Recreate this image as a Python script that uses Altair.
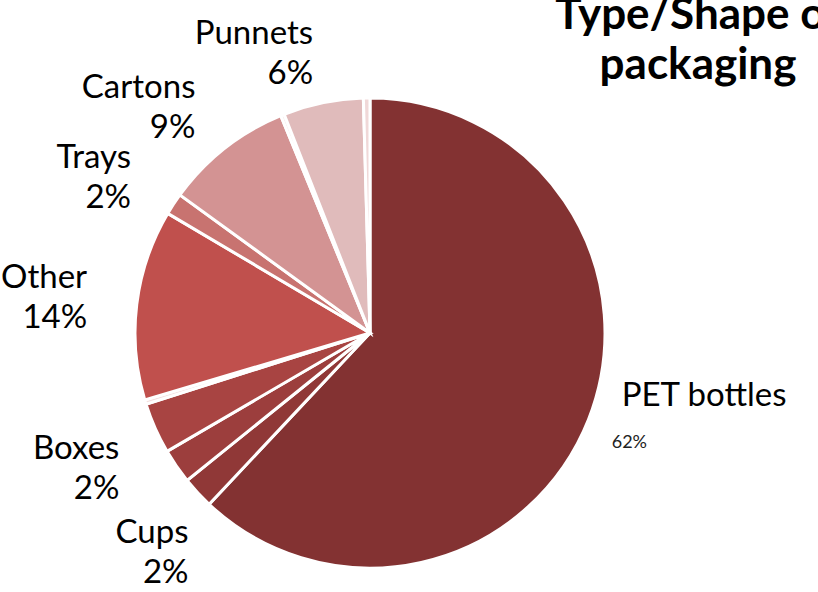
import math
import altair as alt
import pandas as pd

# Slices in clockwise order from 12 o'clock (percent of total)
categories = ["PET bottles", "Cups", "Boxes", "Unlabelled", "Gap A", "Other",
              "Trays", "Cartons", "Gap B", "Punnets", "Gap C"]
values = [62.0, 2.2, 2.4, 3.5, 0.3, 13.1, 1.5, 8.8, 0.25, 5.5, 0.45]
label_names = ["PET bottles", "Cups", "Boxes", "", "", "Other",
               "Trays", "Cartons", "", "Punnets", ""]
label_pcts = ["62%", "2%", "2%", "", "", "14%", "2%", "9%", "", "6%", ""]
colors = ["#833232", "#903837", "#9c3e3d", "#a84442", "#f4e0e0", "#c0504d",
          "#c87370", "#d39393", "#f6e8e8", "#e0bbbb", "#f0d8d8"]

df = pd.DataFrame({"category": categories, "value": values,
                   "lname": label_names, "lpct": label_pcts})
df["end"] = df["value"].cumsum()
df["start"] = df["end"] - df["value"]
df["mid"] = (df["start"] + df["end"]) / 2
df["label"] = df["lname"] + "\n" + df["lpct"]

# --- simple label collision avoidance for left-side labels (Excel-like) ---
R_LAB = 285
FS = 33
LH = 40
GAP_UPPER = 70
GAP_LOWER = 2 * LH + 4
lab = df[(df["lname"] != "") & (df["category"] != "PET bottles")].copy()
lab["ang"] = lab["mid"] * 3.6
lab["w"] = lab["lname"].str.len() * FS * 0.5


def geom(a):
    r = math.radians(a)
    return R_LAB * math.sin(r), -R_LAB * math.cos(r)  # x right-edge, screen y


lab = lab.sort_values("ang", ascending=False).reset_index(drop=True)  # top to bottom
angs = list(lab["ang"])
widths = list(lab["w"])
for _ in range(30):
    moved = False
    for i in range(len(angs) - 1):
        x1, y1 = geom(angs[i])
        x2, y2 = geom(angs[i + 1])
        overlap_x = not (x1 < x2 - widths[i + 1] or x2 < x1 - widths[i])
        gap = GAP_LOWER if (y1 + y2) / 2 > 0 else GAP_UPPER
        d = y2 - y1
        if overlap_x and d < gap - 0.5:
            s = (gap - d) / 2
            for j, yn in ((i, y1 - s), (i + 1, y2 + s)):
                c = max(-1.0, min(1.0, -yn / R_LAB))
                angs[j] = 360 - math.degrees(math.acos(c))
            moved = True
    if not moved:
        break
lab["lmid"] = [a / 3.6 for a in angs]

theta_scale = alt.Scale(domain=[0, 100])
cx, cy = 370, 333
FONT = "Lato"

base = alt.Chart(df)

arcs = base.mark_arc(outerRadius=235, stroke="white", strokeWidth=3).encode(
    theta=alt.Theta("start:Q", scale=theta_scale),
    theta2="end:Q",
    color=alt.Color("category:N", scale=alt.Scale(domain=categories, range=colors), legend=None),
    x=alt.value(cx), y=alt.value(cy),
)

# two-line labels, block vertically centred on the anchor point
left_labels = alt.Chart(lab[["category", "label", "lmid"]]).mark_text(
    radius=R_LAB, align="right", baseline="middle", fontSize=FS, lineHeight=LH,
    font=FONT, lineBreak="\n", color="black", dy=-LH / 2
).encode(
    theta=alt.Theta("lmid:Q", scale=theta_scale),
    text="label:N",
    x=alt.value(cx), y=alt.value(cy),
)

pet_name = base.transform_filter("datum.category == 'PET bottles'").mark_text(
    radius=275, align="left", baseline="middle", fontSize=FS, font=FONT, dy=-38, dx=-4,
    color="black"
).encode(theta=alt.Theta("mid:Q", scale=theta_scale), text="lname:N",
         x=alt.value(cx), y=alt.value(cy))

pet_pct = base.transform_filter("datum.category == 'PET bottles'").mark_text(
    radius=275, align="left", baseline="middle", fontSize=18, font=FONT, dy=9, dx=-14,
    color="#222222"
).encode(theta=alt.Theta("mid:Q", scale=theta_scale), text="lpct:N",
         x=alt.value(cx), y=alt.value(cy))

chart = alt.layer(arcs, left_labels, pet_name, pet_pct).properties(
    width=818, height=592, autosize="none", padding=0,
    background="white",
    title=alt.TitleParams(text=["Type/Shape of", "packaging"], font=FONT, fontSize=44,
                          fontWeight="bold", color="black", anchor="middle",
                          dx=289, dy=88, lineHeight=50, offset=0),
).configure_view(stroke=None)

chart.save("out.html", embed_options={"renderer": "svg", "actions": False})
